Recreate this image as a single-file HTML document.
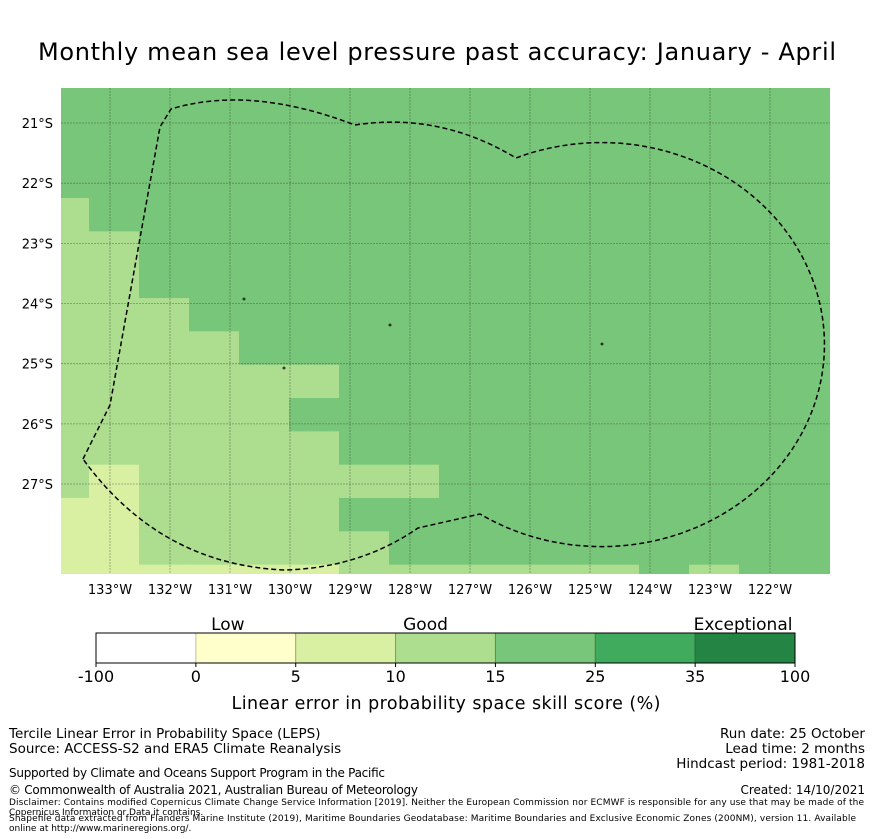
<!DOCTYPE html>
<html><head><meta charset="utf-8"><style>
html,body{margin:0;padding:0;background:#fff;}
svg{display:block;font-family:"DejaVu Sans","Liberation Sans",sans-serif;}
</style></head><body>
<svg id="chart" width="873" height="839" viewBox="0 0 873 839" xmlns="http://www.w3.org/2000/svg">
<text x="437" y="60" font-size="24" text-anchor="middle" fill="#000" textLength="798">Monthly mean sea level pressure past accuracy: January - April</text>
<defs><clipPath id="mapclip"><rect x="61" y="88" width="769" height="486"/></clipPath></defs>
<g id="map" clip-path="url(#mapclip)"></g>
<g id="axes"></g>
<g id="cbar"></g>
<text x="446" y="709" font-size="17.5" text-anchor="middle" textLength="429">Linear error in probability space skill score (%)</text>
<g font-size="13.5" fill="#000">
<text x="9" y="738">Tercile Linear Error in Probability Space (LEPS)</text>
<text x="9" y="753">Source: ACCESS-S2 and ERA5 Climate Reanalysis</text>
<text x="865" y="738" text-anchor="end">Run date: 25 October</text>
<text x="865" y="753" text-anchor="end">Lead time: 2 months</text>
<text x="865" y="768" text-anchor="end">Hindcast period: 1981-2018</text>
<text x="9" y="777" font-size="12" textLength="376">Supported by Climate and Oceans Support Program in the Pacific</text>
<text x="9" y="794" font-size="12" textLength="409">© Commonwealth of Australia 2021, Australian Bureau of Meteorology</text>
<text x="865" y="794" font-size="12" text-anchor="end">Created: 14/10/2021</text>
<text x="9" y="805" font-size="9" textLength="855">Disclaimer: Contains modified Copernicus Climate Change Service Information [2019]. Neither the European Commission nor ECMWF is responsible for any use that may be made of the</text>
<text x="9" y="815" font-size="9">Copernicus Information or Data it contains.</text>
<text x="9" y="821" font-size="9" textLength="847">Shapefile data extracted from Flanders Marine Institute (2019), Maritime Boundaries Geodatabase: Maritime Boundaries and Exclusive Economic Zones (200NM), version 11. Available</text>
<text x="9" y="831" font-size="9">online at http://www.marineregions.org/.</text>
</g>
</svg>
<script>
// category index per grid cell (0=-100..0,1=0..5,2=5..10,3=10..15,4=15..25,5=25..35,6=35..100)
const gridRows = [
[4,4,4,4,4,4,4,4,4,4,4,4,4,4,4,4],
[4,4,4,4,4,4,4,4,4,4,4,4,4,4,4,4],
[4,4,4,4,4,4,4,4,4,4,4,4,4,4,4,4],
[4,4,4,4,4,4,4,4,4,4,4,4,4,4,4,4],
[3,4,4,4,4,4,4,4,4,4,4,4,4,4,4,4],
[3,3,4,4,4,4,4,4,4,4,4,4,4,4,4,4],
[3,3,4,4,4,4,4,4,4,4,4,4,4,4,4,4],
[3,3,3,4,4,4,4,4,4,4,4,4,4,4,4,4],
[3,3,3,3,4,4,4,4,4,4,4,4,4,4,4,4],
[3,3,3,3,3,3,4,4,4,4,4,4,4,4,4,4],
[3,3,3,3,3,4,4,4,4,4,4,4,4,4,4,4],
[3,3,3,3,3,3,4,4,4,4,4,4,4,4,4,4],
[3,2,3,3,3,3,3,3,4,4,4,4,4,4,4,4],
[2,2,3,3,3,3,4,4,4,4,4,4,4,4,4,4],
[2,2,3,3,3,3,3,4,4,4,4,4,4,4,4,4],
[2,2,2,2,2,2,3,3,3,3,3,3,4,3,4,4]
];
const lonTicks = [133,132,131,130,129,128,127,126,125,124,123,122];
const latTicks = [21,22,23,24,25,26,27];
const cbarBounds = ["-100","0","5","10","15","25","35","100"];
const cbarColors = ["#ffffff","#ffffcc","#d9f0a3","#addd8e","#78c679","#41ab5d","#238443"];
const cbarWords = [["Low",1.32],["Good",3.3],["Exceptional",6.48]];

const NS="http://www.w3.org/2000/svg";
function mk(tag,attrs,parent){const e=document.createElementNS(NS,tag);for(const k in attrs)e.setAttribute(k,attrs[k]);parent.appendChild(e);return e;}
const xLon = lon => 110 + (133 - lon) * 60;
const yLat = lat => 123 + (lat - 21) * 60.17;
const cellX = c => 39 + c * 50;
const cellY = r => 64.7 + r * 33.33;

const map=document.getElementById('map');
gridRows.forEach((row,r)=>row.forEach((v,c)=>{
  const rc=mk('rect',{x:cellX(c),y:cellY(r),width:50.6,height:33.9,fill:cbarColors[v]},map);
  
  
}));
lonTicks.forEach(l=>{
  const g=mk('line',{x1:xLon(l),x2:xLon(l),y1:88,y2:574,stroke:'#333','stroke-opacity':0.45,'stroke-width':0.8,'stroke-dasharray':'2,1'},map);
  
  
});
latTicks.forEach(l=>{
  const g=mk('line',{x1:61,x2:830,y1:yLat(l),y2:yLat(l),stroke:'#333','stroke-opacity':0.45,'stroke-width':0.8,'stroke-dasharray':'2,1'},map);
  
  
});
const eez=mk('path',{d:'M83,459 L110,405 L160,127 L171,109 Q250,85 355,125 Q440,112 516,158 A223 202 0 1 1 480,514 L418,528 Q360,568 285,570 Q160,565 83,459 Z',fill:'none',stroke:'#000','stroke-width':1.5,'stroke-dasharray':'5,3'},map);


[[244,299],[390,325],[602,344],[284,368]].forEach(p=>{
  const d=mk('circle',{cx:p[0],cy:p[1],r:1,fill:'none',stroke:'#000','stroke-width':0.8},map);
  
  
});

const axes=document.getElementById('axes');
lonTicks.forEach(l=>{
  const t=mk('text',{x:xLon(l),y:594,'font-size':13,'text-anchor':'middle'},axes);
  t.textContent=l+'°W';
  
  
});
latTicks.forEach(l=>{
  const t=mk('text',{x:53,y:yLat(l)+5,'font-size':13,'text-anchor':'end'},axes);
  t.textContent=l+'°S';
  
  
});

const cb=document.getElementById('cbar');
const cbX = i => 96 + i * (699/7);
cbarColors.forEach((c,i)=>{
  const r=mk('rect',{x:cbX(i),y:633,width:699/7,height:30,fill:c,stroke:i>0?'rgba(0,0,0,0.25)':'none','stroke-width':1},cb);
  
  
});
mk('rect',{x:96,y:633,width:699,height:30,fill:'none',stroke:'#000','stroke-width':1},cb);
cbarBounds.forEach((b,i)=>{
  mk('line',{x1:cbX(i),x2:cbX(i),y1:663,y2:667,stroke:'#000'},cb);
  const t=mk('text',{x:cbX(i),y:682,'font-size':16,'text-anchor':'middle'},cb);
  t.textContent=b;
  
  
});
cbarWords.forEach(w=>{
  const t=mk('text',{x:cbX(w[1]),y:630,'font-size':17,'text-anchor':'middle'},cb);
  t.textContent=w[0];
  
  
});
</script>
</body></html>
